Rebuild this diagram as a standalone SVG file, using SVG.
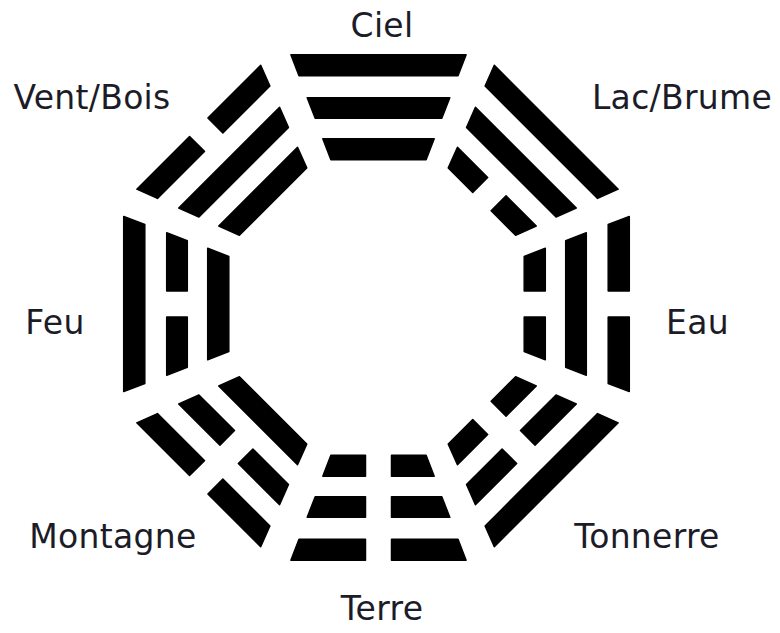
<svg xmlns="http://www.w3.org/2000/svg" xmlns:xlink="http://www.w3.org/1999/xlink" width="780" height="633" viewBox="0 0 780 633">
  <style>
    .bar { fill: #000; stroke: #000; stroke-width: 1.5; stroke-linejoin: round; }
    .lbl { font-family: "DejaVu Sans", Verdana, sans-serif; font-size: 33px; letter-spacing: 0.3px; fill: #1c1c28; text-anchor: middle; }
  </style>
  <defs>
    <path id="yang1" class="bar" d="M-55.7,-168.8 H55.7 L47.6,-147.7 H-47.6 Z"/>
    <path id="yin1" class="bar" d="M-55.7,-168.8 H-13 V-147.7 H-47.6 Z M13,-168.8 H55.7 L47.6,-147.7 H13 Z"/>
    <path id="yang2" class="bar" d="M-71.3,-209.8 H71.3 L63.3,-189.2 H-63.3 Z"/>
    <path id="yin2" class="bar" d="M-71.3,-209.8 H-13 V-189.2 H-63.3 Z M13,-209.8 H71.3 L63.3,-189.2 H13 Z"/>
    <path id="yang3" class="bar" d="M-87.6,-252.8 H87.6 L79.5,-231.7 H-79.5 Z"/>
    <path id="yin3" class="bar" d="M-87.6,-252.8 H-13 V-231.7 H-79.5 Z M13,-252.8 H87.6 L79.5,-231.7 H13 Z"/>
  </defs>
  <rect width="780" height="633" fill="#fff"/>

  <g id="ciel" transform="translate(378.5,307.5)">
    <use xlink:href="#yang1"/><use xlink:href="#yang2"/><use xlink:href="#yang3"/>
  </g>
  <g id="lac" transform="translate(377.5,306) rotate(45)">
    <use xlink:href="#yin1"/><use xlink:href="#yang2"/><use xlink:href="#yang3"/>
  </g>
  <g id="eau" transform="translate(376.5,304) rotate(90)">
    <use xlink:href="#yin1"/><use xlink:href="#yang2"/><use xlink:href="#yin3"/>
  </g>
  <g id="tonnerre" transform="translate(377.5,306) rotate(135)">
    <use xlink:href="#yin1"/><use xlink:href="#yin2"/><use xlink:href="#yang3"/>
  </g>
  <g id="terre" transform="translate(378.5,307.5) rotate(180)">
    <use xlink:href="#yin1"/><use xlink:href="#yin2"/><use xlink:href="#yin3"/>
  </g>
  <g id="montagne" transform="translate(377.5,306) rotate(225)">
    <use xlink:href="#yang1"/><use xlink:href="#yin2"/><use xlink:href="#yin3"/>
  </g>
  <g id="feu" transform="translate(376.5,304) rotate(270)">
    <use xlink:href="#yang1"/><use xlink:href="#yin2"/><use xlink:href="#yang3"/>
  </g>
  <g id="vent" transform="translate(377.5,306) rotate(315)">
    <use xlink:href="#yang1"/><use xlink:href="#yang2"/><use xlink:href="#yin3"/>
  </g>

  <g id="labels">
    <text class="lbl" x="382" y="37">Ciel</text>
    <text class="lbl" x="92" y="109">Vent/Bois</text>
    <text class="lbl" x="682" y="109">Lac/Brume</text>
    <text class="lbl" x="55" y="334">Feu</text>
    <text class="lbl" x="697.5" y="334">Eau</text>
    <text class="lbl" x="113" y="548">Montagne</text>
    <text class="lbl" x="647" y="548">Tonnerre</text>
    <text class="lbl" x="382" y="620">Terre</text>
  </g>
</svg>
